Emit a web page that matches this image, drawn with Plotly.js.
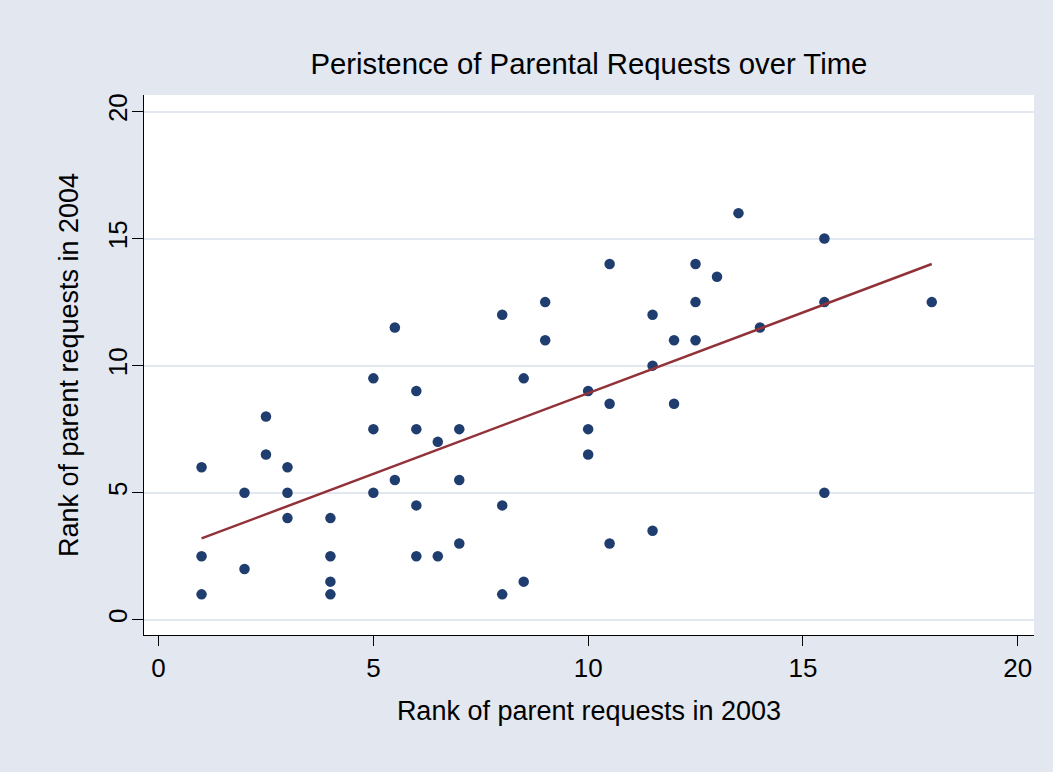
<!DOCTYPE html>
<html>
<head>
<meta charset="utf-8">
<script src="https://cdn.plot.ly/plotly-3.0.1.min.js"></script>
<style>
html,body{margin:0;padding:0;background:#e2e7f0;}
#chart{width:1053px;height:772px;}
</style>
</head>
<body>
<div id="chart"></div>
<script>
// Rank of parent requests, 2003 (x) vs 2004 (y)
const rank2003 = [1,1,1, 2,2, 2.5,2.5, 3,3,3, 4,4,4,4, 5,5,5, 5.5,5.5, 6,6,6,6, 6.5,6.5, 7,7,7,
  8,8,8, 8.5,8.5, 9,9, 10,10,10, 10.5,10.5,10.5, 11.5,11.5,11.5, 12,12, 12.5,12.5,12.5,
  13, 13.5, 14, 15.5,15.5,15.5, 18];
const rank2004 = [6,2.5,1, 5,2, 8,6.5, 6,5,4, 4,2.5,1.5,1, 9.5,7.5,5, 11.5,5.5, 9,7.5,4.5,2.5, 7,2.5, 7.5,5.5,3,
  12,4.5,1, 9.5,1.5, 12.5,11, 9,7.5,6.5, 14,8.5,3, 12,10,3.5, 11,8.5, 14,12.5,11,
  13.5, 16, 11.5, 15,12.5,5, 12.5];
// Fitted values line
const fitX = [1, 18];
const fitY = [3.2, 14.0];
const tickVals = [0, 5, 10, 15, 20];
const tickText = ["0", "5", "10", "15", "20"];

const font = "Liberation Sans, Arial, sans-serif";

const traces = [
  {
    x: rank2003, y: rank2004, type: "scatter", mode: "markers",
    marker: {color: "#1f3d6e", size: 10.5},
    hoverinfo: "x+y", showlegend: false
  },
  {
    x: fitX, y: fitY, type: "scatter", mode: "lines",
    line: {color: "#923238", width: 2.5},
    showlegend: false
  }
];

const layout = {
  width: 1053, height: 772,
  paper_bgcolor: "#e2e7f0",
  plot_bgcolor: "#ffffff",
  margin: {l: 144, r: 19, t: 95, b: 137, pad: 0},
  font: {family: font, color: "#000"},
  title: {
    text: "Peristence of Parental Requests over Time",
    font: {family: font, size: 29.3, color: "#000"},
    x: 0.5593, xanchor: "center", y: 0.918, yanchor: "middle"
  },
  xaxis: {
    range: [-0.34, 20.38],
    tickvals: tickVals, ticktext: tickText,
    ticks: "outside", ticklen: 10, tickwidth: 1, tickcolor: "#000",
    tickfont: {family: font, size: 26, color: "#000"},
    ticklabelstandoff: 0,
    showgrid: false, zeroline: false,
    showline: true, linecolor: "#000", linewidth: 1,
    title: {text: "Rank of parent requests in 2003", font: {family: font, size: 27, color: "#000"}, standoff: 18}
  },
  yaxis: {
    range: [-0.6, 20.65],
    tickvals: tickVals, ticktext: tickText,
    tickangle: -90,
    ticks: "outside", ticklen: 11, tickwidth: 1, tickcolor: "#000",
    tickfont: {family: font, size: 26, color: "#000"},
    ticklabelstandoff: -5,
    showgrid: true, gridcolor: "#e2e7f0", gridwidth: 2,
    zeroline: false,
    showline: true, linecolor: "#000", linewidth: 1,
    title: {text: "Rank of parent requests in 2004", font: {family: font, size: 27, color: "#000"}, standoff: 16}
  }
};

Plotly.newPlot("chart", traces, layout, {displayModeBar: false, staticPlot: true});
</script>
</body>
</html>
